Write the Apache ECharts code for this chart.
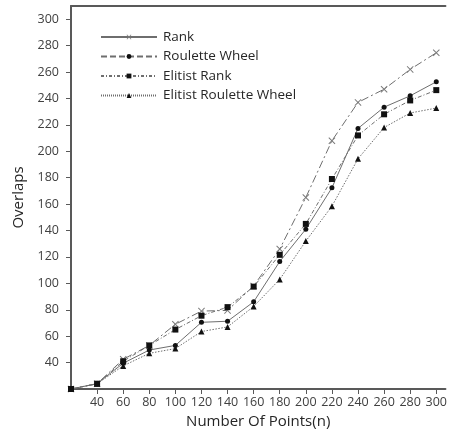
<!DOCTYPE html>
<html>
<head>
<meta charset="utf-8">
<script src="https://cdn.jsdelivr.net/npm/echarts@6/dist/echarts.min.js"></script>
<style>
  html, body { margin: 0; padding: 0; background: #fff; }
  #chart { width: 450px; height: 434px; }
</style>
</head>
<body>
<div id="chart"></div>
<script>
// data
const points = [20, 40, 60, 80, 100, 120, 140, 160, 180, 200, 220, 240, 260, 280, 300]
const seriesNames = ['Rank', 'Roulette Wheel', 'Elitist Rank', 'Elitist Roulette Wheel']
const rank = [20, 24, 42.5, 53, 69, 79, 79.5, 98, 126, 165, 208, 237, 247, 262, 274.6]
const rouletteWheel = [20, 24, 39.5, 49.5, 53, 70.5, 71.3, 86, 116.5, 141, 172.3, 217.3, 233.4, 242, 252.6]
const elitistRank = [20, 24, 41, 53, 65, 75.5, 82, 97.5, 121.6, 145, 179, 212, 228, 238.5, 246.3]
const elitistRoulette = [20, 24, 37.5, 47, 50.6, 63.5, 67, 82.5, 103, 132, 158.4, 194.3, 218, 229, 232.7]

const crossPath = 'path://M0,1L1,0L5,4L9,0L10,1L6,5L10,9L9,10L5,6L1,10L0,9L4,5Z'
const lineColor = '#6e6e6e'
const axisColor = '#595959'
const textColor = '#404040'
const font = '"Open Sans", "Noto Sans", sans-serif'

const chart = echarts.init(document.getElementById('chart'))

function pairs (vals) {
  return points.map((x, i) => [x, vals[i]])
}

function makeSeries (name, vals, symbol, size, lineType, symbolColor) {
  return {
    name: name,
    type: 'line',
    xAxisIndex: 0,
    data: pairs(vals),
    symbol: symbol,
    symbolSize: size,
    showAllSymbol: true,
    lineStyle: { color: lineColor, width: 1, type: lineType },
    itemStyle: { color: symbolColor },
    emphasis: { disabled: true },
    animation: false
  }
}

const option = {
  backgroundColor: '#fff',
  textStyle: { fontFamily: font },
  grid: { left: 71, right: 3, top: 6, bottom: 44.5, containLabel: false },
  legend: {
    orient: 'vertical',
    left: 95,
    top: 25,
    itemWidth: 56,
    itemHeight: 6,
    itemGap: 5.5,
    textStyle: { color: '#262626', fontSize: 13.5, fontFamily: font, padding: [0, 0, 0, 1] },
    // legend keys follow the reference's legend, which differs from the plot's own dashes
    data: [
      { name: seriesNames[0], lineStyle: { type: 'solid', color: lineColor } },
      { name: seriesNames[1], lineStyle: { type: [6, 3], color: lineColor } },
      { name: seriesNames[2], lineStyle: { type: [3, 2, 1, 2], color: lineColor } },
      { name: seriesNames[3], lineStyle: { type: [1, 1], color: lineColor } }
    ]
  },
  xAxis: [{
    type: 'value',
    min: 20,
    max: 307,
    interval: 20,
    name: 'Number Of Points(n)',
    nameLocation: 'middle',
    nameGap: 25,
    nameTextStyle: { color: '#262626', fontSize: 15, fontFamily: font },
    axisLine: { lineStyle: { color: axisColor, width: 2 } },
    axisTick: { length: 5, lineStyle: { color: axisColor } },
    axisLabel: {
      color: textColor, fontSize: 12.5, margin: 7,
      showMinLabel: false, showMaxLabel: false
    },
    splitLine: { show: false }
  }, {
    type: 'value',
    position: 'top',
    min: 20,
    max: 307,
    axisLine: { onZero: false, lineStyle: { color: axisColor, width: 2 } },
    axisTick: { show: false },
    axisLabel: { show: false },
    splitLine: { show: false }
  }],
  yAxis: {
    type: 'value',
    min: 20,
    max: 310,
    interval: 20,
    name: 'Overlaps',
    nameLocation: 'middle',
    nameRotate: 90,
    nameGap: 42,
    nameTextStyle: { color: '#262626', fontSize: 15, fontFamily: font },
    axisLine: { show: true, lineStyle: { color: axisColor, width: 2 } },
    axisTick: { show: true, length: 5, lineStyle: { color: axisColor } },
    axisLabel: {
      color: textColor, fontSize: 12.5, margin: 12,
      showMinLabel: false, showMaxLabel: false
    },
    splitLine: { show: false }
  },
  series: [
    makeSeries(seriesNames[0], rank, crossPath, 7, [8, 3, 2, 3], '#7a7a7a'),
    makeSeries(seriesNames[1], rouletteWheel, 'circle', 5, 'solid', '#111'),
    makeSeries(seriesNames[2], elitistRank, 'rect', 6, [4, 2, 1, 2], '#111'),
    makeSeries(seriesNames[3], elitistRoulette, 'triangle', 6, [1.5, 1.5], '#111')
  ]
}

chart.setOption(option)
</script>
</body>
</html>
